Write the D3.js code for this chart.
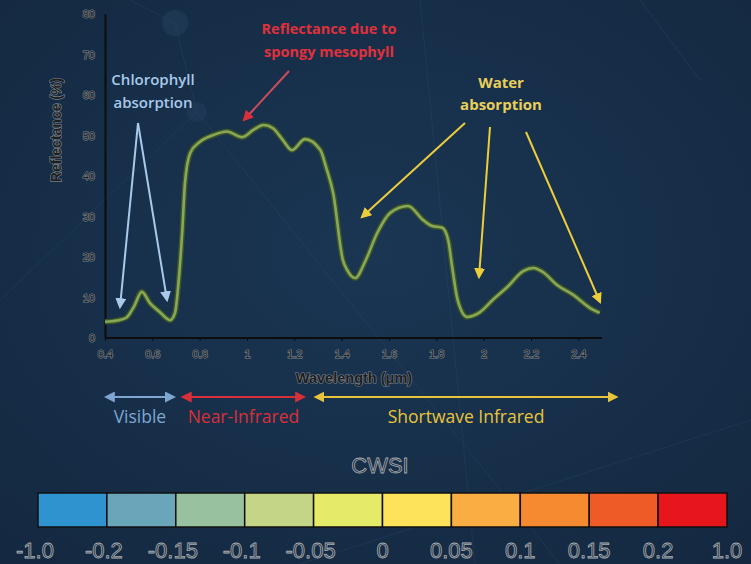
<!DOCTYPE html>
<html><head><meta charset="utf-8">
<script src="https://cdn.jsdelivr.net/npm/d3@7"></script>
<style>
html,body{margin:0;padding:0;background:#172f48;}
svg{display:block;}
</style></head>
<body>
<svg id="chart" width="751" height="564"></svg>
<script>
// ---- data ----
const wavelengths = [0.40,0.45,0.49,0.52,0.556,0.59,0.63,0.675,0.696,0.709,0.726,0.738,0.76,0.80,0.857,0.915,0.98,1.03,1.07,1.11,1.15,1.19,1.245,1.31,1.335,1.364,1.405,1.423,1.457,1.50,1.55,1.605,1.68,1.745,1.78,1.825,1.85,1.867,1.89,1.93,1.985,2.04,2.10,2.167,2.21,2.25,2.31,2.38,2.45,2.49];
const reflectance = [4.0,4.3,5.0,7.5,11.4,8.6,6.5,4.4,6.2,12.6,25.9,38.3,45.7,48.4,50.1,51.0,49.6,51.5,52.6,51.8,49.0,46.4,49.1,46.4,42.0,35.8,19.3,16.8,14.8,19.0,25.9,30.9,32.6,29.1,27.7,27.2,24.2,17.5,9.4,5.2,6.4,9.5,12.6,16.5,17.3,16.3,13.1,10.6,7.4,6.2];
const xTicks = [0.4,0.6,0.8,1,1.2,1.4,1.6,1.8,2,2.2,2.4];
const yTicks = [0,10,20,30,40,50,60,70,80];
const cwsiLabels = ["-1.0","-0.2","-0.15","-0.1","-0.05","0","0.05","0.1","0.15","0.2","1.0"];
const cwsiColors = ["#2f93d0","#6aa6b9","#97c19f","#c4d588","#e6ea69","#fce35b","#f9ad43","#f68a31","#ef5b26","#e6161c"];
const regionNames = ["Visible","Near-Infrared","Shortwave Infrared"];
const regionFrom = [0.4, 0.725, 1.286];
const regionTo = [0.695, 1.245, 2.565];
const regionColors = ["#7ea6d0","#d8303a","#e8c43a"];

const svg = d3.select("#chart");
const W = 751, H = 564;

// background
const defs = svg.append("defs");
const rg = defs.append("radialGradient").attr("id","bg").attr("cx","50%").attr("cy","45%").attr("r","75%");
rg.append("stop").attr("offset","0%").attr("stop-color","#1a3653");
rg.append("stop").attr("offset","100%").attr("stop-color","#142840");
svg.append("rect").attr("width",W).attr("height",H).attr("fill","url(#bg)");

// faint decorative network
const deco = svg.append("g").attr("opacity",0.22).attr("stroke","#3d6486").attr("fill","none").attr("stroke-width",0.8);
[[175,23,130,0],[175,23,197,112],[197,112,560,564],[0,300,197,112],[420,0,475,564],[640,0,700,80],[300,564,751,420]].forEach(l=>{
  deco.append("line").attr("x1",l[0]).attr("y1",l[1]).attr("x2",l[2]).attr("y2",l[3]);
});
svg.append("circle").attr("cx",175).attr("cy",23).attr("r",13).attr("fill","#2a4a6a").attr("opacity",0.35);
svg.append("circle").attr("cx",197).attr("cy",112).attr("r",10).attr("fill","#2a4a6a").attr("opacity",0.3);

// scales
const x = d3.scaleLinear().domain([0.4,2.5]).range([105,602]);
const y = d3.scaleLinear().domain([0,80]).range([338,14]);

// axes
const axisTextStyle = sel => sel.attr("fill","#1e1e1e").attr("stroke","#7d868f").attr("stroke-width",1.2)
  .style("paint-order","stroke").attr("font-family","Liberation Sans, Arial, sans-serif");

const gx = svg.append("g").attr("transform","translate(0,338)")
  .call(d3.axisBottom(x).tickValues(xTicks).tickFormat(d3.format("~g")).tickSize(3).tickSizeOuter(0));
gx.select(".domain").attr("stroke","#0d0d0d").attr("stroke-width",2).attr("d","M105,0H602");
gx.selectAll(".tick line").attr("stroke","#0d0d0d");
gx.selectAll(".tick text").attr("font-size",11).attr("dy","1.3em").call(axisTextStyle);

const gy = svg.append("g").attr("transform","translate(105,0)")
  .call(d3.axisLeft(y).tickValues(yTicks).tickSize(0).tickPadding(10));
gy.select(".domain").attr("stroke","#0d0d0d").attr("stroke-width",2);
gy.selectAll(".tick text").attr("font-size",11).call(axisTextStyle);

svg.append("text").attr("x",354).attr("y",383).attr("text-anchor","middle").attr("font-size",14.5).attr("font-weight","bold")
  .text("Wavelength (μm)").call(axisTextStyle);
svg.append("text").attr("transform","translate(61,130) rotate(-90)").attr("text-anchor","middle").attr("font-size",14).attr("font-weight","bold")
  .text("Reflectance (%)").call(axisTextStyle);

// curve
const pts = wavelengths.map((w,i)=>[w,reflectance[i]]);
const line = d3.line().x(d=>x(d[0])).y(d=>y(d[1])).curve(d3.curveMonotoneX);
svg.append("path").datum(pts).attr("d",line).attr("fill","none").attr("stroke","#3d5629").attr("stroke-width",5.5).attr("stroke-linejoin","round");
svg.append("path").datum(pts).attr("d",line).attr("fill","none").attr("stroke","#88a858").attr("stroke-width",2.6).attr("stroke-linejoin","round");

// arrow markers
function marker(id,color,size){
  defs.append("marker").attr("id",id).attr("viewBox","0 0 10 10").attr("refX",8).attr("refY",5)
    .attr("markerWidth",size).attr("markerHeight",size).attr("orient","auto-start-reverse").attr("markerUnits","userSpaceOnUse")
    .append("path").attr("d","M0,0 L10,5 L0,10 z").attr("fill",color);
}
marker("mBlue","#a9c9ea",11);
marker("mRed","#d8303a",11);
marker("mYel","#eccd3a",11);
const regionMarkers = ["rBlue","rRed","rYel"];
regionColors.forEach((c,i)=>marker(regionMarkers[i],c,11));

const ann = svg.append("g").attr("font-family","Open Sans, sans-serif").attr("font-weight","600");

function arrow(x1,y1,x2,y2,color,m){
  ann.append("line").attr("x1",x1).attr("y1",y1).attr("x2",x2).attr("y2",y2)
    .attr("stroke",color).attr("stroke-width",2).attr("marker-end",`url(#${m})`);
}
// chlorophyll
ann.append("text").attr("x",153).attr("y",85).attr("text-anchor","middle").attr("font-size",15).attr("fill","#a9c9ea").text("Chlorophyll");
ann.append("text").attr("x",153).attr("y",108).attr("text-anchor","middle").attr("font-size",15).attr("fill","#a9c9ea").text("absorption");
arrow(138,123,120,307,"#a9c9ea","mBlue");
arrow(138,123,167,300,"#a9c9ea","mBlue");
// spongy mesophyll
ann.append("text").attr("x",329).attr("y",34).attr("text-anchor","middle").attr("font-size",14.5).attr("font-weight","bold").attr("fill","#e0303c").text("Reflectance due to");
ann.append("text").attr("x",329).attr("y",57).attr("text-anchor","middle").attr("font-size",14.5).attr("font-weight","bold").attr("fill","#e0303c").text("spongy mesophyll");
arrow(289,71,244,120,"#cf4d5a","mRed");
// water
ann.append("text").attr("x",501).attr("y",88).attr("text-anchor","middle").attr("font-size",15).attr("font-weight","bold").attr("fill","#e8cf5a").text("Water");
ann.append("text").attr("x",501).attr("y",110).attr("text-anchor","middle").attr("font-size",15).attr("font-weight","bold").attr("fill","#e8cf5a").text("absorption");
arrow(465,123,362,217,"#eccd3a","mYel");
arrow(490,127,479,277,"#eccd3a","mYel");
arrow(526,132,600,302,"#eccd3a","mYel");

// spectral regions
regionNames.forEach((name,i)=>{
  const x1 = x(regionFrom[i]), x2 = x(regionTo[i]);
  ann.append("line").attr("x1",x1+1).attr("x2",x2-1).attr("y1",397).attr("y2",397)
    .attr("stroke",regionColors[i]).attr("stroke-width",2)
    .attr("marker-start",`url(#${regionMarkers[i]})`).attr("marker-end",`url(#${regionMarkers[i]})`);
  ann.append("text").attr("x",(x1+x2)/2).attr("y",423).attr("text-anchor","middle").attr("font-size",17.5).attr("font-weight",500)
    .attr("fill",regionColors[i]).text(name);
});

// CWSI colorbar
const cx = d3.scalePoint().domain(cwsiLabels).range([38,727]);
const step = cx.step();
const lg = svg.append("g");
lg.append("text").attr("x",380).attr("y",473).attr("text-anchor","middle").attr("font-size",22)
  .attr("font-family","Liberation Sans, Arial, sans-serif").attr("fill","#243240").attr("stroke","#a9adb2").attr("stroke-width",0.8)
  .text("CWSI");
lg.selectAll("rect").data(cwsiColors).join("rect")
  .attr("x",(d,i)=>cx(cwsiLabels[i])).attr("y",493).attr("width",step).attr("height",34)
  .attr("fill",d=>d).attr("stroke","#111").attr("stroke-width",1.5);
lg.selectAll("text.lab").data(cwsiLabels).join("text").attr("class","lab")
  .attr("x",d=>cx(d) - (d.startsWith("-")?3:0)).attr("y",558).attr("text-anchor","middle").attr("font-size",22)
  .attr("font-family","Liberation Sans, Arial, sans-serif").attr("fill","#243240").attr("stroke","#a9adb2").attr("stroke-width",0.8)
  .text(d=>d);
</script>
</body></html>
